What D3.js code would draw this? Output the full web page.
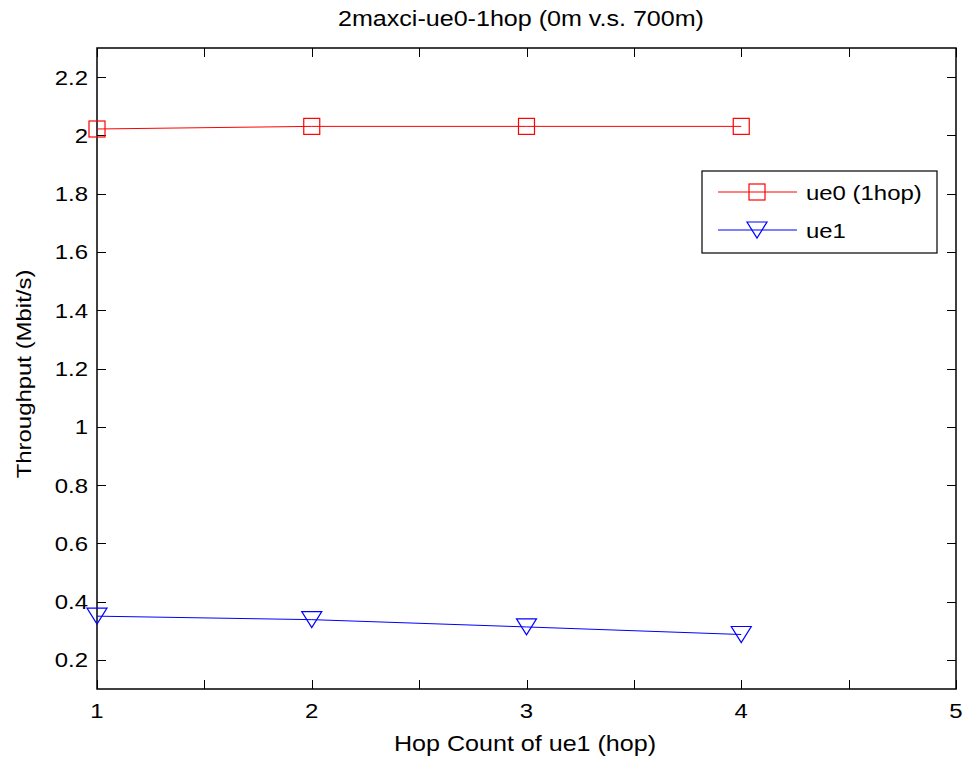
<!DOCTYPE html>
<html lang="en">
  <head>
    <meta charset="utf-8">
    <title>2maxci-ue0-1hop</title>
    <script type="text/javascript" src="https://cdn.jsdelivr.net/npm/d3@7"></script>
    <style type="text/css">
      body { margin: 0; background: #fff; }
      svg text { font-family: "Liberation Sans", Arial, sans-serif; fill: #000; }
    </style>
  </head>
  <body>
    <script type="text/javascript">

      // Data
      var hops = [1, 2, 3, 4];
      var ue0 = [2.022, 2.031, 2.031, 2.031];
      var ue1 = [0.350, 0.338, 0.313, 0.287];
      var seriesNames = ["ue0 (1hop)", "ue1"];
      var xTicks = [1, 1.5, 2, 2.5, 3, 3.5, 4, 4.5, 5];
      var xLabels = [1, 2, 3, 4, 5];
      var yTicks = [0.2, 0.4, 0.6, 0.8, 1, 1.2, 1.4, 1.6, 1.8, 2, 2.2];

      var w = 964;
      var h = 761;
      // plot box edges (note: "top" is taken by window.top, so use pad names)
      var padL = 97, padR = 956, padT = 48, padB = 689;
      var stretch = 1.14; // text in the original is rendered a bit wide

      var svg = d3.select("body")
        .append("svg")
        .attr("width", w)
        .attr("height", h);

      var xScale = d3.scaleLinear().domain([1, 5]).range([padL, padR]);
      var yScale = d3.scaleLinear().domain([0.1, 2.3]).range([padB, padT]);

      //Ticks on all four sides, pointing in
      var tickLen = 9;
      var ticks = svg.append("g").attr("stroke", "#000").attr("stroke-width", 1);
      xTicks.forEach(function(t) {
        var x = Math.round(xScale(t)) + 0.5;
        ticks.append("line").attr("x1", x).attr("x2", x)
          .attr("y1", padB).attr("y2", padB - tickLen);
        ticks.append("line").attr("x1", x).attr("x2", x)
          .attr("y1", padT).attr("y2", padT + tickLen);
      });
      yTicks.forEach(function(t) {
        var y = Math.round(yScale(t)) + 0.5;
        ticks.append("line").attr("x1", padL).attr("x2", padL + tickLen)
          .attr("y1", y).attr("y2", y);
        ticks.append("line").attr("x1", padR).attr("x2", padR - tickLen)
          .attr("y1", y).attr("y2", y);
      });

      //Box
      svg.append("rect")
        .attr("x", padL).attr("y", padT)
        .attr("width", padR - padL).attr("height", padB - padT)
        .attr("fill", "none")
        .attr("stroke", "#000")
        .attr("stroke-width", 1.5);

      //Tick labels
      function wideText(g, x, y, str, anchor, size) {
        return g.append("text")
          .attr("transform", "translate(" + x + "," + y + ") scale(" + stretch + ",1)")
          .attr("text-anchor", anchor)
          .attr("font-size", size + "px")
          .text(str);
      }
      var labels = svg.append("g");
      xLabels.forEach(function(t) {
        wideText(labels, xScale(t), 718, d3.format("d")(t), "middle", 21);
      });
      yTicks.forEach(function(t) {
        wideText(labels, padL - 9, yScale(t) + 7.5, String(t), "end", 21);
      });

      //Title and axis labels
      wideText(svg, 521, 26, "2maxci-ue0-1hop (0m v.s. 700m)", "middle", 22);
      wideText(svg, 525, 751, "Hop Count of ue1 (hop)", "middle", 22);
      svg.append("text")
        .attr("transform", "translate(31,374) rotate(-90) scale(" + stretch + ",1)")
        .attr("text-anchor", "middle")
        .attr("font-size", "21px")
        .text("Throughput (Mbit/s)");

      //Lines
      var line = d3.line()
        .x(function(d, i) { return xScale(hops[i]); })
        .y(function(d) { return yScale(d); });

      svg.append("path").datum(ue0)
        .attr("d", line).attr("fill", "none")
        .attr("stroke", "#ff0000").attr("stroke-width", 1);
      svg.append("path").datum(ue1)
        .attr("d", line).attr("fill", "none")
        .attr("stroke", "#0000ff").attr("stroke-width", 1);

      //Markers
      var sq = 16;
      function square(g, x, y) {
        g.append("rect")
          .attr("x", x - sq / 2).attr("y", y - sq / 2)
          .attr("width", sq).attr("height", sq)
          .attr("fill", "none").attr("stroke", "#ff0000").attr("stroke-width", 1.2);
      }
      function tri(g, x, y) {
        var s = 10;
        g.append("path")
          .attr("d", "M" + (x - s) + "," + (y - s + 2) + "L" + (x + s) + "," + (y - s + 2) +
                     "L" + x + "," + (y + s - 2) + "Z")
          .attr("fill", "none").attr("stroke", "#0000ff").attr("stroke-width", 1.2);
      }
      var marks = svg.append("g");
      ue0.forEach(function(d, i) { square(marks, xScale(hops[i]), yScale(d)); });
      ue1.forEach(function(d, i) { tri(marks, xScale(hops[i]), yScale(d)); });

      //Legend
      var lg = svg.append("g");
      lg.append("rect")
        .attr("x", 702).attr("y", 171).attr("width", 235).attr("height", 82)
        .attr("fill", "#fff").attr("stroke", "#000").attr("stroke-width", 1.2);
      var rows = [192, 230];
      lg.append("line").attr("x1", 718).attr("x2", 797).attr("y1", rows[0]).attr("y2", rows[0])
        .attr("stroke", "#ff0000");
      square(lg, 757, rows[0]);
      lg.append("line").attr("x1", 718).attr("x2", 797).attr("y1", rows[1]).attr("y2", rows[1])
        .attr("stroke", "#0000ff");
      tri(lg, 757, rows[1]);
      seriesNames.forEach(function(n, i) {
        wideText(lg, 806, rows[i] + 7.5, n, "start", 21);
      });

    </script>
  </body>
</html>
